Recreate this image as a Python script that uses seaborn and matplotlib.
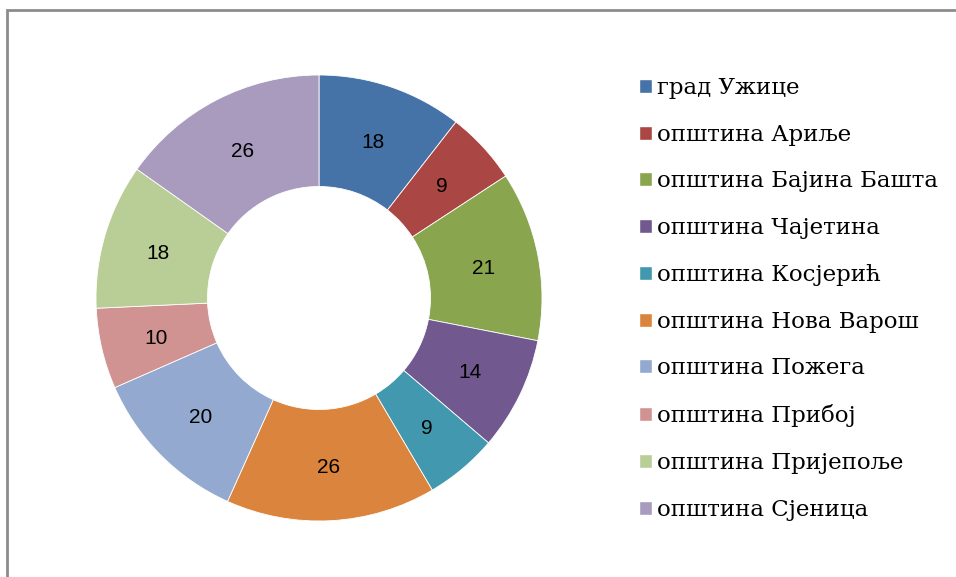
import matplotlib
matplotlib.use("Agg")
import matplotlib.pyplot as plt
import seaborn as sns
import numpy as np
from matplotlib.patches import Rectangle

# Chart data
labels = ['град Ужице', 'општина Ариље', 'општина Бајина Башта', 'општина Чајетина',
          'општина Косјерић', 'општина Нова Варош', 'општина Пожега', 'општина Прибој',
          'општина Пријепоље', 'општина Сјеница']
values = [18, 9, 21, 14, 9, 26, 20, 10, 18, 26]
colors = ['#4572A7', '#AA4643', '#89A54E', '#71588F', '#4198AF',
          '#DB843D', '#93A9CF', '#D19392', '#B9CD96', '#A99BBD']

sns.set_style("white")
palette = sns.color_palette(colors)

W, H = 956, 577
fig = plt.figure(figsize=(W / 100, H / 100), dpi=100)

# Frame around the chart area (only top and left show)
fig.patches.append(Rectangle((7 / W, -0.1), 1.2, 1 - 10 / H + 0.1,
                             transform=fig.transFigure, fill=False,
                             edgecolor='#8c8c8c', linewidth=2))

cx, cy, r = 319, 298, 223
ax = fig.add_axes([(cx - r) / W, (H - cy - r) / H, 2 * r / W, 2 * r / H])
wedges, texts = ax.pie(values, colors=palette, startangle=90, counterclock=False,
                       radius=1, wedgeprops=dict(width=0.5, edgecolor='white', linewidth=0.6))
for w, v in zip(wedges, values):
    ang = np.deg2rad((w.theta1 + w.theta2) / 2)
    ax.text(0.75 * np.cos(ang), 0.75 * np.sin(ang) - 0.01, str(v), ha='center', va='center',
            fontsize=15, family='Liberation Sans', color='black')
ax.set_xlim(-1, 1)
ax.set_ylim(-1, 1)
ax.set_aspect('equal')
ax.axis('off')

# Legend
handles = [Rectangle((0, 0), 1, 1, facecolor=c) for c in palette]
leg = fig.legend(handles, labels, loc='upper left', bbox_to_anchor=(639 / W, 1 - 77 / H),
                 frameon=False, prop={'family': 'DejaVu Serif', 'size': 16.5},
                 handlelength=0.55, handleheight=0.55, handletextpad=0.25,
                 labelspacing=1.08, borderaxespad=0, borderpad=0, labelcolor='black')

fig.savefig('out.png', dpi=100)
